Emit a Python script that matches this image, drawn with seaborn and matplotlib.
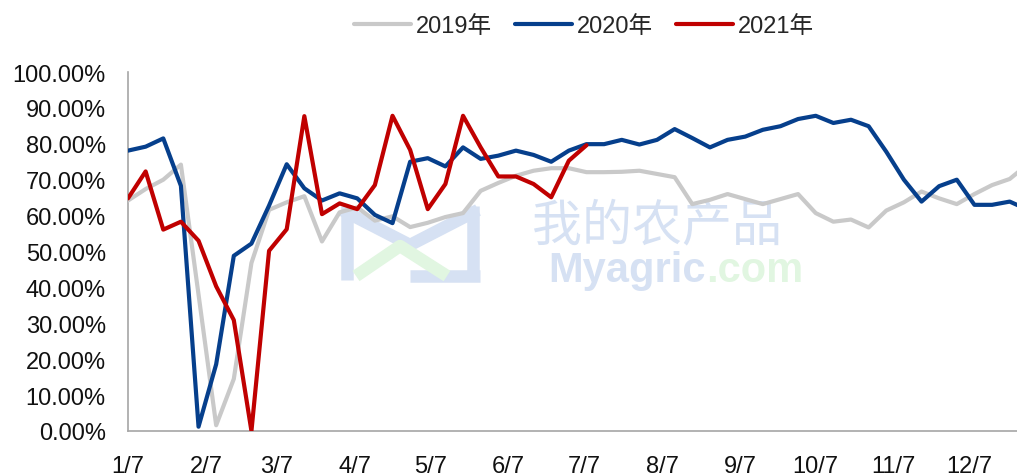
import numpy as np
import pandas as pd
import matplotlib
matplotlib.use('Agg')
from matplotlib import pyplot as plt
from matplotlib.lines import Line2D
from matplotlib.ticker import PercentFormatter
import seaborn as sns

# weekly values, %
y2019 = [64.2, 67.4, 70.0, 74.2, 38.0, 1.6, 14.5, 46.8, 61.6, 63.7,
         65.4, 52.8, 60.9, 62.3, 58.6, 59.8, 56.8, 58.0, 59.6, 60.7,
         66.9, 69.1, 71.1, 72.5, 73.2, 73.2, 72.1, 72.1, 72.2, 72.5,
         71.6, 70.7, 63.2, 64.4, 66.0, 64.6, 63.2, 64.6, 66.0, 60.7,
         58.3, 58.9, 56.7, 61.4, 63.7, 66.7, 64.8, 63.2, 66.0, 68.5,
         70.2, 74.2]
y2020 = [78.1, 79.2, 81.5, 68.3, 1.2, 18.6, 48.8, 52.2, 62.8, 74.3,
         67.6, 64.2, 66.2, 64.8, 60.2, 57.9, 75.0, 76.0, 73.7, 79.0,
         75.8, 76.7, 78.1, 76.9, 75.0, 78.1, 79.9, 79.9, 81.1, 79.8,
         81.1, 84.1, 81.6, 79.0, 81.1, 82.0, 83.9, 84.9, 86.9, 87.8,
         85.8, 86.7, 84.9, 77.8, 70.0, 63.9, 68.2, 70.0, 63.0, 63.0,
         63.9, 61.7]
y2021 = [64.8, 72.3, 56.1, 58.3, 53.0, 40.3, 30.9, 0.0, 50.2, 56.2,
         87.7, 60.4, 63.4, 61.8, 68.5, 87.8, 78.3, 61.8, 68.8, 87.8,
         79.0, 70.9, 70.9, 68.8, 65.1, 75.3, 79.6]
labels = ['2019年', '2020年', '2021年']
colors = ['#C9C9C9', '#063F8C', '#C00000']
tick_labels = [f'{m}/7' for m in range(1, 13)]

start = pd.Timestamp('2021-01-07')
weeks = pd.date_range(start, periods=len(y2019), freq='7D')

frames = []
for lab, vals in zip(labels, [y2019, y2020, y2021]):
    frames.append(pd.DataFrame({'date': weeks[:len(vals)], 'rate': vals, 'year': lab}))
df = pd.concat(frames, ignore_index=True)

sns.set_style('white')
plt.rcParams['font.family'] = ['Liberation Sans', 'Noto Sans CJK SC', 'DejaVu Sans']

W, H = 1017, 477
fig = plt.figure(figsize=(W / 100, H / 100), dpi=100)
ax = fig.add_axes([128 / W, 1 - 432 / H, 889 / W, 359 / H])


def px(x, y):
    return x / W, 1 - y / H


# faint watermark (logo + site name)
wm_blue = '#D6E1F3'
wm_green = '#E1F6E1'
for xs, ys, c in [([347, 347], [207, 281], wm_blue),
                  ([473, 473], [207, 281], wm_blue),
                  ([342, 410, 478], [211, 246, 211], wm_blue),
                  ([410, 480], [277, 277], wm_blue),
                  ([356, 400, 447], [277, 247, 277], wm_green)]:
    fx, fy = zip(*[px(a, b) for a, b in zip(xs, ys)])
    fig.add_artist(Line2D(fx, fy, color=c, linewidth=9, zorder=0,
                          solid_capstyle='butt'))
ax.text(*px(657, 226), '我的农产品', transform=fig.transFigure, fontsize=36,
        color=wm_blue, ha='center', va='center', zorder=0,
        family=['Noto Sans CJK SC'])
ax.text(*px(706, 271), 'Myagric', transform=fig.transFigure, fontsize=30,
        color=wm_blue, ha='right', va='center', zorder=0, fontweight='bold')
ax.text(*px(706, 271), '.com', transform=fig.transFigure, fontsize=30,
        color=wm_green, ha='left', va='center', zorder=0, fontweight='bold')
ax.patch.set_alpha(0)

sns.lineplot(data=df, x='date', y='rate', hue='year', hue_order=labels,
             palette=colors, linewidth=3, ax=ax, zorder=3)

ax.set_ylim(0, 100)
ax.set_yticks(np.arange(0, 101, 10))
ax.yaxis.set_major_formatter(PercentFormatter(100, decimals=2))
ax.set_xlim(start, start + pd.Timedelta(days=352.9))
ticks = [pd.Timestamp(f'2021-{m:02d}-07') for m in range(1, 13)]
ax.set_xticks(ticks)
ax.set_xticklabels(tick_labels)
ax.set_xlabel('')
ax.set_ylabel('')

for s in ['top', 'right']:
    ax.spines[s].set_visible(False)
for s in ['left', 'bottom']:
    ax.spines[s].set_color('#A6A6A6')
    ax.spines[s].set_linewidth(1.2)
ax.tick_params(axis='both', which='major', direction='out', length=7,
               width=1.2, color='#A6A6A6', labelsize=17, labelcolor='#111111')
ax.tick_params(axis='x', pad=10)
ax.tick_params(axis='y', pad=9)

handles, _ = ax.get_legend_handles_labels()
ax.legend(handles, labels, loc='center', bbox_to_anchor=px(584, 27),
          bbox_transform=fig.transFigure, ncol=3, frameon=False, fontsize=17,
          handlelength=2.4, handletextpad=0.2, columnspacing=1.0)

fig.savefig('out.png', dpi=100)
